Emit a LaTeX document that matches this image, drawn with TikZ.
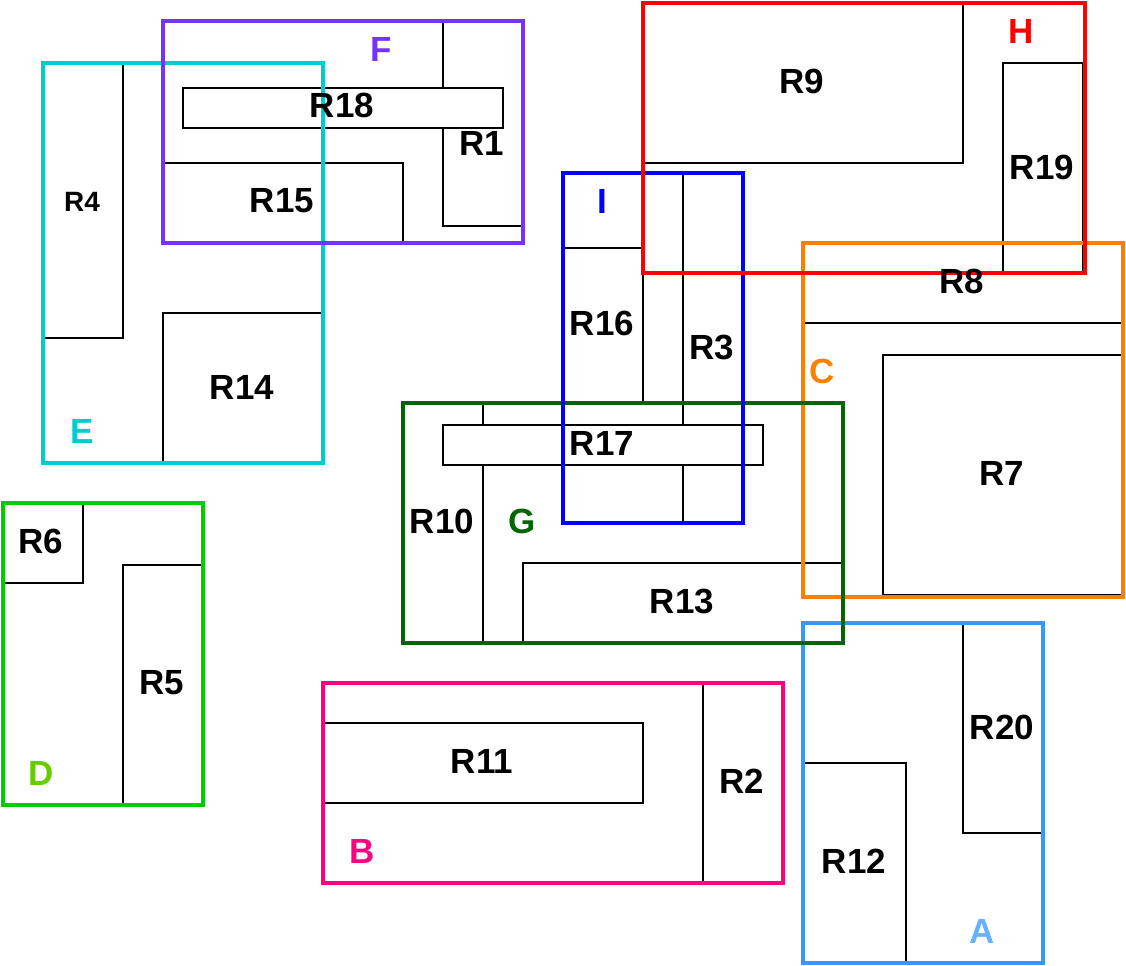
\documentclass[tikz,border=0pt]{standalone}
\usepackage{fontspec}
\setmainfont{Liberation Sans}
\usepackage{xcolor}
\usepackage{tikz}
\definecolor{corA}{HTML}{3399FF}
\definecolor{corAtxt}{HTML}{66B2FF}
\definecolor{corB}{HTML}{FF0080}
\definecolor{corC}{HTML}{FF8000}
\definecolor{corD}{HTML}{00CC00}
\definecolor{corDtxt}{HTML}{66CC00}
\definecolor{corE}{HTML}{00CCCC}
\definecolor{corF}{HTML}{7433FF}
\definecolor{corG}{HTML}{006600}
\definecolor{corH}{HTML}{FF0000}
\definecolor{corI}{HTML}{0000FF}
\tikzset{
    caixa/.style   = {draw=black, line width=1.1pt},
    branca/.style  = {caixa, fill=white},
    grupo/.style   = {line width=1.9pt},
    rotulo/.style  = {font=\fontsize{19.9}{24}\selectfont\bfseries, inner sep=0pt},
    rotpeq/.style  = {font=\fontsize{15.9}{19}\selectfont\bfseries, inner sep=0pt},
}

\begin{document}
\begin{tikzpicture}[x=0.02cm, y=-0.02cm]
    \useasboundingbox (0,0) rectangle (1126,966);
    % retangulos
    \draw[caixa] (443,21) rectangle (523,226);
    \draw[caixa] (703,683) rectangle (783,883);
    \draw[caixa] (683,173) rectangle (743,523);
    \draw[caixa] (43,63) rectangle (123,338);
    \draw[caixa] (123,565) rectangle (203,805);
    \draw[caixa] (3,503) rectangle (83,583);
    \draw[caixa] (883,355) rectangle (1123,595);
    \draw[caixa] (803,243) rectangle (1123,323);
    \draw[caixa] (643,3) rectangle (963,163);
    \draw[caixa] (403,403) rectangle (483,643);
    \draw[caixa] (323,723) rectangle (643,803);
    \draw[caixa] (803,763) rectangle (906,963);
    \draw[caixa] (523,563) rectangle (843,643);
    \draw[caixa] (163,313) rectangle (323,463);
    \draw[caixa] (163,163) rectangle (403,243);
    \draw[caixa] (563,248) rectangle (643,403);
    \draw[caixa] (1003,63) rectangle (1083,273);
    \draw[caixa] (963,623) rectangle (1043,833);
    \draw[branca] (443,425) rectangle (763,465);
    \draw[branca] (183,88) rectangle (503,128);
    % grupos
    \draw[grupo, corA] (803,623) rectangle (1043,963);
    \draw[grupo, corB] (323,683) rectangle (783,883);
    \draw[grupo, corC] (803,243) rectangle (1123,597);
    \draw[grupo, corD] (3,503) rectangle (203,805);
    \draw[grupo, corE] (43,63) rectangle (323,463);
    \draw[grupo, corF] (163,21) rectangle (523,243);
    \draw[grupo, corG] (403,403) rectangle (843,643);
    \draw[grupo, corI] (563,173) rectangle (743,523);
    \draw[grupo, corH] (643,3) rectangle (1085,273);
    % rotulos
    \node[rotulo] (r1) at (482,143) {R1};
    \node[rotulo] (r2) at (742,781) {R2};
    \node[rotulo] (r3) at (712,347) {R3};
    \node[rotpeq] (r4) at (82,202) {R4};
    \node[rotulo] (r5) at (162,683) {R5};
    \node[rotulo] (r6) at (41,541) {R6};
    \node[rotulo] (r7) at (1002,473) {R7};
    \node[rotulo] (r8) at (962,281) {R8};
    \node[rotulo] (r9) at (802,81) {R9};
    \node[rotulo] (r10) at (442,521) {R10};
    \node[rotulo] (r11) at (482,761) {R11};
    \node[rotulo] (r12) at (854,861) {R12};
    \node[rotulo] (r13) at (682,601) {R13};
    \node[rotulo] (r14) at (242,387) {R14};
    \node[rotulo] (r15) at (282,201) {R15};
    \node[rotulo] (r16) at (602,323) {R16};
    \node[rotulo] (r17) at (602,443) {R17};
    \node[rotulo] (r18) at (342,105) {R18};
    \node[rotulo] (r19) at (1042,167) {R19};
    \node[rotulo] (r20) at (1002,727) {R20};
    \node[rotulo, text=corAtxt] (ga) at (982,931) {A};
    \node[rotulo, text=corB] (gb) at (362,851) {B};
    \node[rotulo, text=corC] (gc) at (822,371) {C};
    \node[rotulo, text=corDtxt] (gd) at (41,773) {D};
    \node[rotulo, text=corE] (ge) at (82,431) {E};
    \node[rotulo, text=corF] (gf) at (381,49) {F};
    \node[rotulo, text=corG] (gg) at (522,521) {G};
    \node[rotulo, text=corH] (gh) at (1021,31) {H};
    \node[rotulo, text=corI] (gi) at (602,201) {I};
\end{tikzpicture}
\end{document}
